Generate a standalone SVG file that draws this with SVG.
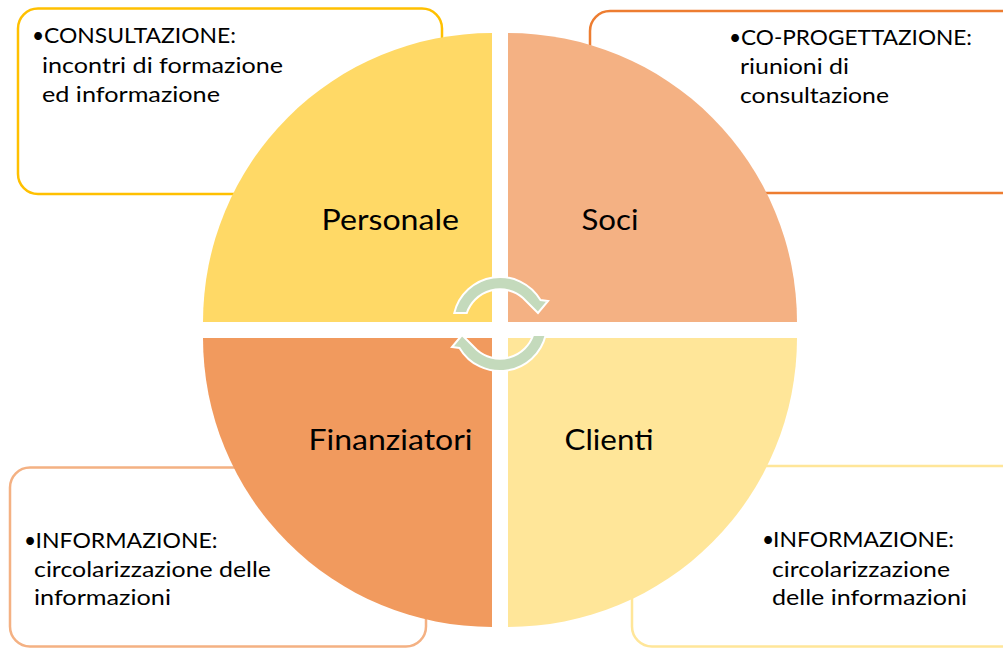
<svg xmlns="http://www.w3.org/2000/svg" width="1003" height="648" viewBox="0 0 1003 648">
<style>
.box{fill:#FFFFFF;stroke-width:2.5}
.t{font-family:Lato,"Open Sans","Liberation Sans",sans-serif;font-size:21px;fill:#000000}
.q{font-family:Lato,"Open Sans","Liberation Sans",sans-serif;font-size:29px;fill:#000000}
.arr{fill:#C4DABC;stroke:#FFFFFF;stroke-width:2;stroke-linejoin:miter}
</style>
<rect width="1003" height="648" fill="#FFFFFF"/>
<g id="box-personale">
<rect class="box" x="18" y="8.5" width="424" height="185.5" rx="20" stroke="#FFC000"/>
<text class="t"><tspan x="32" y="43">•</tspan><tspan x="44" y="43" textLength="192" lengthAdjust="spacingAndGlyphs">CONSULTAZIONE:</tspan></text>
<text class="t" x="42" y="73" textLength="241" lengthAdjust="spacingAndGlyphs">incontri di formazione</text>
<text class="t" x="42" y="102" textLength="178" lengthAdjust="spacingAndGlyphs">ed informazione</text>
</g>
<g id="box-soci">
<rect class="box" x="590" y="11" width="440" height="182" rx="20" stroke="#ED7D31"/>
<text class="t"><tspan x="729" y="45">•</tspan><tspan x="741" y="45" textLength="231" lengthAdjust="spacingAndGlyphs">CO-PROGETTAZIONE:</tspan></text>
<text class="t" x="740" y="74" textLength="109" lengthAdjust="spacingAndGlyphs">riunioni di</text>
<text class="t" x="740" y="103" textLength="149" lengthAdjust="spacingAndGlyphs">consultazione</text>
</g>
<g id="box-finanziatori">
<rect class="box" x="10" y="467.5" width="416" height="179" rx="20" stroke="#F4B183"/>
<text class="t"><tspan x="24" y="548">•</tspan><tspan x="35.5" y="548" textLength="182" lengthAdjust="spacingAndGlyphs">INFORMAZIONE:</tspan></text>
<text class="t" x="34" y="577" textLength="237" lengthAdjust="spacingAndGlyphs">circolarizzazione delle</text>
<text class="t" x="34" y="605" textLength="137" lengthAdjust="spacingAndGlyphs">informazioni</text>
</g>
<g id="box-clienti">
<rect class="box" x="632" y="466" width="440" height="180.5" rx="20" stroke="#FFE699"/>
<text class="t"><tspan x="762" y="547">•</tspan><tspan x="773" y="547" textLength="181" lengthAdjust="spacingAndGlyphs">INFORMAZIONE:</tspan></text>
<text class="t" x="772" y="577" textLength="178" lengthAdjust="spacingAndGlyphs">circolarizzazione</text>
<text class="t" x="772" y="604.5" textLength="195" lengthAdjust="spacingAndGlyphs">delle informazioni</text>
</g>
<g id="node-personale">
<path d="M492,322 L203,322 A289,289 0 0 1 492,33 Z" fill="#FFD966"/>
<text class="q" x="321.5" y="229.5" textLength="137.5" lengthAdjust="spacingAndGlyphs">Personale</text>
</g>
<g id="node-soci">
<path d="M508,322 L508,33 A289,289 0 0 1 797,322 Z" fill="#F4B183"/>
<text class="q" x="581.5" y="229.5" textLength="57" lengthAdjust="spacingAndGlyphs">Soci</text>
</g>
<g id="node-finanziatori">
<path d="M492,338 L492,627 A289,289 0 0 1 203,338 Z" fill="#F19A5E"/>
<text class="q" x="308.5" y="449.5" textLength="164" lengthAdjust="spacingAndGlyphs">Finanziatori</text>
</g>
<g id="node-clienti">
<path d="M508,338 L797,338 A289,289 0 0 1 508,627 Z" fill="#FFE699"/>
<text class="q" x="564.5" y="449.5" textLength="89" lengthAdjust="spacingAndGlyphs">Clienti</text>
</g>
<g id="connectors">
<path class="arr" d="M454.3,313 A47,47 0 0 1 540.5,300.1 L548,301 L538,313 L523,298 A35,35 0 0 0 466.8,313 Z"/>
<path class="arr" d="M454.3,313 A47,47 0 0 1 540.5,300.1 L548,301 L538,313 L523,298 A35,35 0 0 0 466.8,313 Z" transform="rotate(180 500 324)"/>
</g>
</svg>
